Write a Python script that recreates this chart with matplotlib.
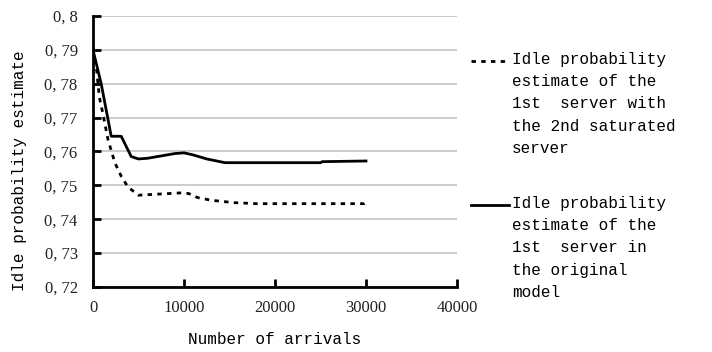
import matplotlib
matplotlib.use("Agg")
import matplotlib.pyplot as plt
from matplotlib.lines import Line2D

# ---- data ----
solid_x = [0, 900, 2000, 3100, 4200, 5000, 6000, 7500, 9000, 10000, 11000, 12500, 14500, 25000, 25200, 30000]
solid_y = [0.790, 0.780, 0.7645, 0.7645, 0.7585, 0.7578, 0.7580, 0.7587, 0.7594, 0.7596, 0.7590, 0.7578,
           0.7567, 0.7567, 0.7570, 0.7572]

dotted_x = [0, 400, 700, 1100, 1650, 2400, 3100, 3850, 5000, 9800, 10500, 11500, 13000, 15500, 18000, 29800, 30000]
dotted_y = [0.790, 0.784, 0.776, 0.771, 0.7635, 0.7567, 0.7527, 0.7495, 0.7471, 0.7478, 0.7476, 0.7464,
            0.7456, 0.7449, 0.7446, 0.7446, 0.7450]

x_ticks = [0, 10000, 20000, 30000, 40000]
x_ticklabels = ["0", "10000", "20000", "30000", "40000"]
y_ticks = [0.72, 0.73, 0.74, 0.75, 0.76, 0.77, 0.78, 0.79, 0.80]
y_ticklabels = ["0, 72", "0, 73", "0, 74", "0, 75", "0, 76", "0, 77", "0, 78", "0, 79", "0, 8"]

legend_dotted = "Idle probability\nestimate of the\n1st  server with\nthe 2nd saturated\nserver"
legend_solid = "Idle probability\nestimate of the\n1st  server in\nthe original\nmodel"
x_label = "Number of arrivals"
y_label = "Idle probability estimate"

# ---- figure ----
W, H = 712, 352
fig = plt.figure(figsize=(W / 100, H / 100), dpi=100)
ax = fig.add_axes([93 / W, 1 - 287 / H, (457 - 93) / W, (287 - 16) / H])

mono = "Liberation Mono"
serif = "Liberation Serif"

ax.plot(dotted_x, dotted_y, color="black", lw=2.0, linestyle=(0, (1.6, 1.9)), zorder=3)
ax.plot(solid_x, solid_y, color="black", lw=2.0, zorder=4)

ax.set_xlim(0, 40000)
ax.set_ylim(0.72, 0.80)
ax.set_xticks(x_ticks)
ax.set_xticklabels(x_ticklabels, fontfamily=serif, fontsize=12)
ax.set_yticks(y_ticks)
ax.set_yticklabels(y_ticklabels, fontfamily=serif, fontsize=12)

ax.grid(axis="y", color="#c8c8c8", lw=1.3, zorder=0)
ax.set_axisbelow(True)
for s in ["top", "right"]:
    ax.spines[s].set_visible(False)
for s in ["left", "bottom"]:
    ax.spines[s].set_linewidth(2)
    ax.spines[s].set_color("black")
ax.tick_params(axis="both", direction="in", length=6, width=2, color="black", labelcolor="#222222")
ax.tick_params(axis="y", pad=11)
ax.tick_params(axis="x", pad=9)

ax.set_xlabel(x_label, fontfamily=mono, fontsize=11.5)
ax.xaxis.set_label_coords(0.5, -(340 - 287) / 271, transform=ax.transAxes)
ax.xaxis.label.set_va("center")
ax.set_ylabel(y_label, fontfamily=mono, fontsize=11.5)
ax.yaxis.set_label_coords(-(93 - 20) / 364, (287 - 171) / 271, transform=ax.transAxes)
ax.yaxis.label.set_va("center")

# ---- legend (manual) ----
def legend_entry(y_px, text, ls):
    yf = 1 - y_px / H
    fig.add_artist(Line2D([471 / W, 509 / W], [yf, yf], transform=fig.transFigure,
                          color="black", lw=2.0, linestyle=ls))
    fig.text(512 / W, 1 - (y_px - 9) / H, text, fontfamily=mono, fontsize=11.5,
             va="top", ha="left", linespacing=1.6)

legend_entry(61, legend_dotted, (0, (1.6, 1.9)))
legend_entry(205, legend_solid, "-")

fig.savefig("out.png", dpi=100)
